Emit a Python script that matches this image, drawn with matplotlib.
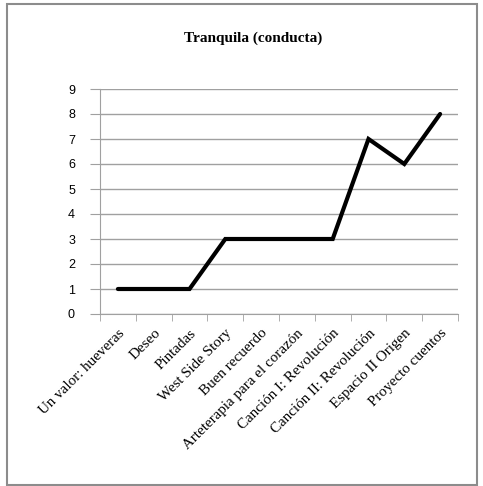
import matplotlib
matplotlib.use("Agg")
import matplotlib.pyplot as plt
from matplotlib.patches import Rectangle

titulo = "Tranquila (conducta)"
categorias = ["Un valor: hueveras", "Deseo", "Pintadas", "West Side Story",
              "Buen recuerdo", "Arteterapia para el corazón",
              "Canción I: Revolución", "Canción II: Revolución",
              "Espacio II Origen", "Proyecto cuentos"]
valores = [1, 1, 1, 3, 3, 3, 3, 7, 6, 8]
y_ticks = list(range(0, 10))

plt.rcParams["font.family"] = ["Liberation Serif", "DejaVu Serif"]

fig = plt.figure(figsize=(4.83, 4.86), dpi=100)
fig.patches.append(Rectangle((7/483, 1/486), 470/483, 481/486, transform=fig.transFigure,
                             fill=False, edgecolor="#8c8c8c", linewidth=1.5))

ax = fig.add_axes([100/483, 1 - 314/486, 358/483, 225/486])
x = list(range(len(categorias)))
ax.plot(x, valores, color="black", linewidth=3, solid_capstyle="round",
        solid_joinstyle="miter", zorder=3)

ax.set_xlim(-0.5, len(categorias) - 0.5)
ax.set_ylim(0, 9)
ax.set_yticks(y_ticks)
ax.set_yticklabels([str(v) for v in y_ticks], family="Liberation Sans", fontsize=9)
ax.grid(axis="y", color="#a0a0a0", linewidth=1)
ax.set_axisbelow(True)

ax.set_xticks(x)
ax.set_xticklabels(categorias, rotation=45, ha="right", rotation_mode="anchor",
                   fontsize=10.8)
ax.set_xticks([i - 0.5 for i in range(len(categorias) + 1)], minor=True)
ax.tick_params(axis="x", which="major", length=0, pad=9)
ax.tick_params(axis="x", which="minor", length=5, color="#a0a0a0", direction="out")
ax.tick_params(axis="y", length=7, color="#a0a0a0", pad=11)

for s in ["top", "right"]:
    ax.spines[s].set_visible(False)
for s in ["left", "bottom"]:
    ax.spines[s].set_color("#a0a0a0")

fig.text(253/483, 1 - 38/486, titulo, ha="center", va="center",
         fontsize=11, fontweight="bold")

fig.savefig("out.png", dpi=100)
